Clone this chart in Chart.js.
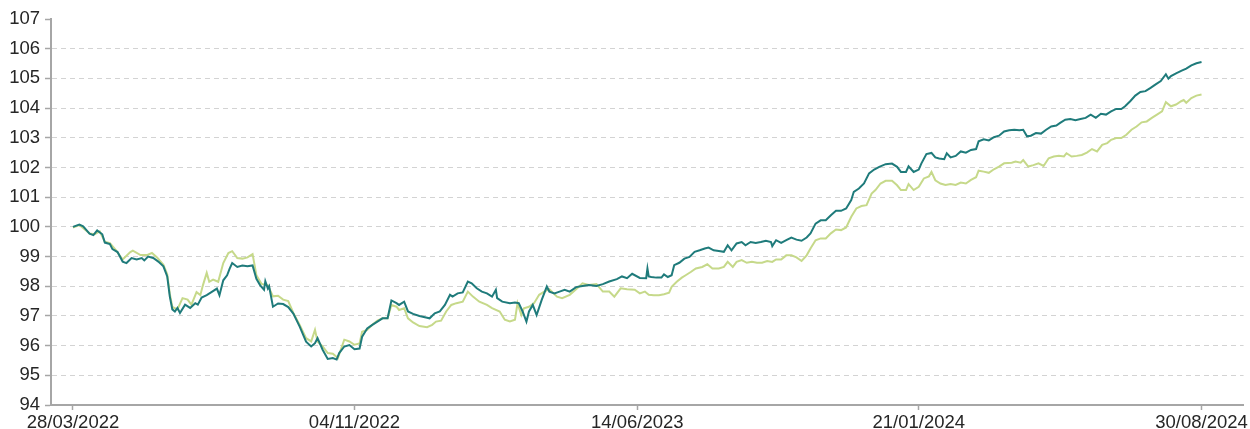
<!DOCTYPE html>
<html>
<head>
<meta charset="utf-8">
<script src="https://cdn.jsdelivr.net/npm/chart.js@4/dist/chart.umd.min.js"></script>
<style>
  html, body { margin: 0; padding: 0; background: #ffffff; }
  #wrap { width: 1250px; height: 429px; position: relative; }
</style>
</head>
<body>
<div id="wrap"><canvas id="c"></canvas></div>
<script>
// Day offsets counted from 28/03/2022
const tickDays = [0, 221, 443, 664, 886];
const tickLabels = ['28/03/2022', '04/11/2022', '14/06/2023', '21/01/2024', '30/08/2024'];

const tealDays = [0,5,8,13,16,19,23,25,29,31,35,39,42,46,50,54,56,59,63,67,71,74,76,78,80,82,84,88,92,96,98,101,105,109,113,115,118,121,123,125,129,133,137,141,144,147,150,151,153,154,157,161,165,169,173,178,183,187,190,192,196,200,204,207,209,213,217,221,225,
227,231,235,239,243,247,250,254,256,260,263,267,272,278,280,284,288,292,296,298,302,306,310,313,317,321,325,329,332,333,337,343,347,350,353,356,358,361,364,368,372,374,378,382,386,390,395,400,405,411,416,421,427,431,435,439,445,450,451,452,
454,458,462,464,467,470,472,476,480,484,488,492,496,499,503,507,511,514,517,521,525,528,532,536,540,544,548,549,552,556,560,564,568,572,576,579,583,587,591,595,599,603,607,611,613,617,621,625,629,633,638,643,647,650,654,656,660,664,666,670,674,677,680,
684,686,689,693,697,701,705,709,711,715,719,723,727,731,735,739,743,746,749,752,756,760,764,768,772,775,779,783,787,791,795,799,803,807,811,815,819,823,826,830,834,838,842,846,850,854,858,860,862,866,870,874,878,882,886];

const tealValues = [100.0,100.08,100.02,99.77,99.72,99.88,99.75,99.47,99.42,99.25,99.15,98.83,98.78,98.95,98.9,98.95,98.87,99.0,98.95,98.83,98.67,98.33,97.66,97.22,97.15,97.27,97.1,97.38,97.27,97.43,97.38,97.62,97.7,97.81,97.92,97.7,98.2,98.37,98.59,98.78,98.65,98.7,98.67,98.7,98.25,98.03,97.88,98.17,97.92,98.0,97.31,97.42,97.4,97.3,97.08,96.64,96.13,95.97,96.08,96.25,95.86,95.55,95.58,95.53,95.75,95.97,96.02,95.88,95.9,
96.3,96.58,96.7,96.81,96.92,96.92,97.52,97.43,97.37,97.48,97.15,97.07,97.0,96.94,96.92,97.09,97.15,97.37,97.71,97.65,97.76,97.79,98.16,98.1,97.93,97.82,97.76,97.65,97.88,97.6,97.48,97.43,97.45,97.43,97.15,96.81,97.15,97.37,97.03,97.54,97.99,97.82,97.76,97.82,97.88,97.82,97.97,98.01,98.04,98.01,98.07,98.16,98.24,98.33,98.27,98.42,98.28,98.27,98.6,98.33,
98.31,98.29,98.29,98.4,98.31,98.37,98.71,98.79,98.93,98.99,99.16,99.21,99.27,99.3,99.21,99.19,99.16,99.38,99.21,99.44,99.49,99.38,99.49,99.46,99.49,99.53,99.49,99.35,99.55,99.46,99.55,99.64,99.57,99.53,99.64,99.78,100.11,100.22,100.22,100.39,100.54,100.54,100.62,100.9,101.18,101.29,101.46,101.8,101.93,102.02,102.11,102.13,102.02,101.85,101.85,102.04,101.85,101.93,102.13,102.45,102.49,102.34,102.3,
102.28,102.48,102.34,102.39,102.54,102.5,102.59,102.62,102.88,102.95,102.91,103.02,103.07,103.21,103.25,103.27,103.25,103.27,103.05,103.07,103.16,103.14,103.27,103.38,103.41,103.5,103.61,103.63,103.59,103.63,103.67,103.78,103.67,103.81,103.78,103.89,103.97,103.97,104.06,104.23,104.42,104.54,104.57,104.68,104.8,104.91,105.14,104.99,105.08,105.17,105.25,105.33,105.44,105.51,105.55];

const greenDays = [0,5,13,17,21,25,29,34,39,45,47,53,58,62,66,71,74,76,78,82,86,90,93,97,100,102,105,107,110,114,118,122,125,129,133,137,141,144,148,153,157,161,165,169,173,178,183,187,190,192,196,200,204,208,213,217,221,225,
227,231,235,239,243,247,250,254,256,260,263,267,272,278,282,285,289,293,297,301,306,310,314,319,325,329,335,339,343,347,349,352,354,358,362,366,370,374,380,384,390,395,400,405,411,416,421,425,430,435,441,445,449,452,
456,460,464,468,470,474,478,481,485,489,494,498,502,507,511,514,518,521,525,529,533,537,541,545,549,552,556,560,564,568,572,576,579,583,587,591,595,599,603,607,611,615,619,623,627,630,634,638,643,647,650,654,656,660,664,668,672,674,677,
681,685,689,693,697,701,705,709,711,715,719,723,727,731,737,740,744,746,750,754,758,762,766,770,774,778,780,784,788,792,796,800,804,808,812,815,819,823,827,831,835,839,843,847,851,855,858,862,866,870,872,874,878,882,886];

const greenValues = [99.98,100.06,99.78,99.75,99.85,99.5,99.45,99.2,98.9,99.15,99.2,99.05,99.05,99.12,98.97,98.72,98.4,97.75,97.3,97.22,97.6,97.55,97.38,97.8,97.7,98.03,98.45,98.15,98.22,98.15,98.78,99.12,99.18,98.95,98.93,98.97,99.08,98.37,98.08,98.03,97.66,97.68,97.55,97.5,97.1,96.7,96.25,96.14,96.53,96.14,95.97,95.75,95.73,95.58,96.2,96.14,96.03,96.07,
96.47,96.53,96.7,96.84,96.92,96.92,97.37,97.31,97.2,97.26,96.92,96.78,96.66,96.62,96.7,96.81,96.84,97.15,97.37,97.43,97.48,97.82,97.65,97.48,97.37,97.26,97.15,96.87,96.81,96.87,97.43,97.03,97.26,97.31,97.43,97.71,97.82,97.9,97.65,97.6,97.71,97.9,98.1,98.04,98.07,97.82,97.82,97.65,97.93,97.9,97.88,97.76,97.82,97.71,
97.7,97.7,97.73,97.78,97.98,98.15,98.29,98.37,98.48,98.6,98.65,98.74,98.6,98.6,98.65,98.82,98.65,98.82,98.88,98.79,98.82,98.79,98.79,98.85,98.82,98.9,98.9,99.04,99.04,98.97,98.85,99.04,99.27,99.55,99.61,99.61,99.78,99.91,99.89,99.98,100.34,100.62,100.7,100.73,101.12,101.24,101.46,101.55,101.55,101.4,101.24,101.24,101.44,101.24,101.35,101.63,101.7,101.85,101.57,
101.46,101.41,101.44,101.41,101.49,101.46,101.58,101.67,101.89,101.86,101.82,101.94,102.03,102.14,102.16,102.2,102.16,102.25,102.03,102.08,102.14,102.05,102.31,102.37,102.39,102.37,102.48,102.37,102.39,102.42,102.5,102.62,102.54,102.76,102.82,102.93,102.99,102.99,103.1,103.27,103.38,103.52,103.55,103.67,103.78,103.89,104.2,104.06,104.12,104.23,104.27,104.18,104.34,104.42,104.46];

const yMin = 94, yMax = 107;

function pairs(days, vals) {
  const n = Math.min(days.length, vals.length);
  const out = [];
  for (let i = 0; i < n; i++) out.push({ x: days[i], y: vals[i] });
  return out;
}

const axisGrey = '#a6a6a6';
const textCol = '#262626';
const font = { family: '"Liberation Sans", Arial, sans-serif', size: 18.5 };

new Chart(document.getElementById('c'), {
  type: 'line',
  data: {
    datasets: [
      { label: 'A', data: pairs(tealDays, tealValues), borderColor: '#1f7b7b', borderWidth: 2, pointRadius: 0, tension: 0, fill: false },
      { label: 'B', data: pairs(greenDays, greenValues), borderColor: '#c6d98a', borderWidth: 2, pointRadius: 0, tension: 0, fill: false }
    ]
  },
  options: {
    responsive: true,
    maintainAspectRatio: false,
    animation: false,
    layout: { padding: { top: 19, right: 5, bottom: 0, left: 0 } },
    plugins: { legend: { display: false }, tooltip: { enabled: false } },
    scales: {
      x: {
        type: 'linear',
        min: -17.25,
        max: 919,
        afterBuildTicks: s => { s.ticks = tickDays.map(v => ({ value: v })); },
        afterFit: s => { s.height = 24; },
        ticks: {
          autoSkip: false, maxRotation: 0, padding: 2, color: textCol, font: font,
          callback: (v) => { const i = tickDays.indexOf(v); return i >= 0 ? tickLabels[i] : ''; }
        },
        grid: { drawOnChartArea: false, drawTicks: true, tickLength: 5, tickColor: axisGrey, tickWidth: 1.5 },
        border: { display: true, color: axisGrey, width: 2 }
      },
      y: {
        min: yMin,
        max: yMax,
        afterFit: s => { s.width = 51; },
        ticks: { stepSize: 1, padding: 5, color: textCol, font: font },
        grid: {
          color: ctx => (ctx.tick && (ctx.tick.value === yMin || ctx.tick.value === yMax)) ? 'rgba(0,0,0,0)' : '#d3d3d3',
          lineWidth: 1,
          drawTicks: true, tickLength: 6, tickColor: axisGrey, tickWidth: 1.5
        },
        border: { display: true, color: axisGrey, width: 2, dash: [5, 4] }
      }
    }
  }
});
</script>
</body>
</html>
